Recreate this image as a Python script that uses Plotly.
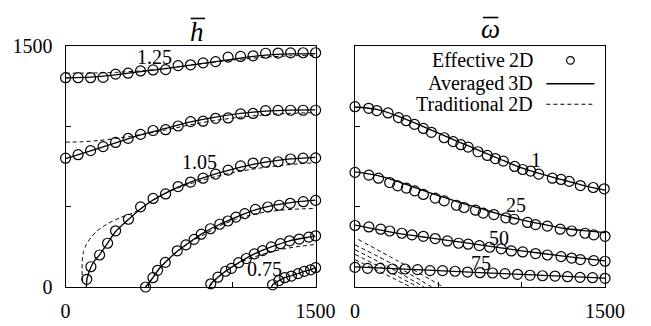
import plotly.graph_objects as go

# ---------------- data: left panel (h-bar contours) ----------------
GRID_X = [0, 75, 150, 225, 300, 375, 450, 525, 600, 675, 750, 825, 900, 975,
          1050, 1125, 1200, 1275, 1350, 1425, 1500]

h125_circ_y = [1300, 1300, 1300, 1302, 1322, 1328, 1342, 1348, 1350, 1375, 1380,
               1392, 1400, 1428, 1432, 1436, 1452, 1453, 1454, 1455, 1455]
h125_sol_x = [0, 150, 300, 450, 600, 750, 900, 1050, 1200, 1350, 1500]
h125_sol_y = [1298, 1303, 1318, 1338, 1356, 1378, 1400, 1422, 1440, 1448, 1450]
h125_dash_x = [0, 150, 300, 450, 600, 750, 900, 1050, 1200, 1350, 1500]
h125_dash_y = [1328, 1329, 1333, 1342, 1358, 1378, 1398, 1415, 1428, 1436, 1440]

h115_circ_y = [800, 822, 847, 872, 898, 923, 948, 972, 977, 1000, 1027, 1030,
               1048, 1050, 1075, 1078, 1095, 1097, 1098, 1098, 1098]
h115_sol_x = [0, 150, 300, 450, 600, 750, 900, 1050, 1200, 1350, 1500]
h115_sol_y = [798, 845, 895, 945, 985, 1025, 1055, 1078, 1093, 1099, 1100]
h115_dash_x = [0, 100, 200, 300, 400, 500, 600, 750, 900, 1050, 1200, 1350, 1500]
h115_dash_y = [900, 902, 910, 922, 938, 955, 975, 1008, 1035, 1055, 1070, 1079, 1083]

h105_circ_x = [127, 152, 204, 252, 300, 377, 450, 525, 600, 675, 750, 825, 900,
               975, 1050, 1125, 1200, 1275, 1350, 1425, 1500]
h105_circ_y = [48, 126, 199, 272, 349, 421, 498, 550, 578, 624, 652, 676, 701,
               726, 752, 770, 775, 778, 795, 800, 802]
h105_sol_x = [125, 128, 140, 153, 175, 204, 252, 300, 377, 450, 525, 600, 675,
              750, 825, 900, 975, 1050, 1125, 1200, 1275, 1350, 1425, 1500]
h105_sol_y = [0, 48, 90, 126, 165, 200, 272, 345, 420, 485, 540, 583, 620,
              652, 678, 702, 724, 745, 762, 776, 787, 796, 801, 805]
h105_dash_x = [102, 99, 100, 108, 125, 150, 185, 250, 330, 410, 460, 525, 600,
               675, 750, 825, 900, 1000, 1100, 1200, 1300, 1400, 1500]
h105_dash_y = [30, 100, 160, 220, 265, 305, 345, 392, 432, 462, 495, 540, 582,
               615, 642, 665, 686, 710, 728, 744, 756, 765, 772]

h095_circ_x = [480, 524, 552, 598, 670, 722, 771, 814, 869, 925, 974, 1022, 1075,
               1139, 1213, 1281, 1348, 1426, 1500]
h095_circ_y = [0, 58, 104, 153, 225, 262, 296, 328, 362, 390, 410, 434, 456,
               482, 497, 508, 520, 530, 538]
h095_sol_x = [480, 524, 560, 600, 670, 750, 830, 925, 1020, 1110, 1213, 1300, 1400, 1500]
h095_sol_y = [0, 58, 112, 155, 222, 283, 338, 390, 432, 470, 500, 517, 530, 540]
h095_dash_x = [480, 525, 555, 600, 675, 750, 830, 925, 1020, 1115, 1213, 1310, 1406, 1500]
h095_dash_y = [0, 58, 105, 155, 225, 280, 325, 380, 420, 448, 468, 479, 485, 488]

h085_circ_x = [871, 914, 960, 995, 1038, 1084, 1133, 1182, 1234, 1289, 1344, 1402, 1459, 1500]
h085_circ_y = [20, 61, 98, 116, 151, 177, 206, 226, 249, 269, 287, 298, 310, 318]
h085_sol_x = [862, 871, 914, 960, 1038, 1133, 1234, 1344, 1459, 1500]
h085_sol_y = [0, 20, 61, 98, 151, 206, 249, 287, 310, 318]
h085_dash_x = [862, 914, 960, 1038, 1100, 1160, 1213, 1310, 1406, 1500]
h085_dash_y = [0, 61, 98, 148, 175, 196, 212, 237, 253, 264]

h075_circ_x = [1242, 1280, 1315, 1355, 1395, 1432, 1470, 1500]
h075_circ_y = [14, 40, 58, 68, 83, 97, 107, 120]
h075_sol_x = [1236, 1242, 1280, 1315, 1355, 1395, 1432, 1470, 1500]
h075_sol_y = [0, 14, 40, 58, 70, 84, 97, 108, 120]

h_labels = ["1.25", "1.05", "0.75"]
h_label_x = [531, 805, 1194]
h_label_y = [1430, 776, 113]

# ---------------- data: right panel (omega-bar) ----------------
w1_circ_x = [0, 82, 131, 198, 261, 307, 357, 410, 458, 535, 589, 635, 679, 738,
             794, 842, 890, 958, 1006, 1054, 1102, 1184, 1236, 1285, 1352, 1429, 1495]
w1_circ_y = [1120, 1110, 1096, 1081, 1052, 1033, 1010, 985, 961, 927, 903, 884, 869, 840,
             817, 798, 782, 749, 730, 720, 701, 676, 668, 656, 630, 618, 610]
w1_sol_x = [0, 125, 250, 375, 500, 625, 750, 875, 1000, 1125, 1250, 1375, 1500]
w1_sol_y = [1118, 1105, 1065, 1012, 956, 900, 846, 792, 740, 700, 665, 630, 602]

w25_circ_x = [0, 83, 141, 208, 256, 308, 358, 410, 481, 535, 608, 654, 723, 769,
              833, 905, 954, 1035, 1083, 1154, 1231, 1300, 1380, 1432, 1500]
w25_circ_y = [712, 695, 676, 649, 628, 614, 597, 575, 552, 535, 508, 494, 477, 459,
              450, 430, 421, 401, 388, 378, 359, 348, 334, 324, 315]
w25_sol_x = [0, 125, 250, 375, 500, 625, 750, 875, 1000, 1125, 1250, 1375, 1500]
w25_sol_y = [715, 695, 658, 612, 568, 526, 488, 450, 417, 390, 365, 350, 338]

w50_circ_x = [0, 83, 154, 208, 281, 342, 410, 481, 554, 621, 679, 746, 808, 877,
              938, 1006, 1083, 1154, 1236, 1300, 1352, 1432, 1500]
w50_circ_y = [382, 373, 359, 348, 334, 324, 315, 301, 286, 272, 266, 257, 247, 237,
              224, 218, 208, 199, 189, 180, 170, 164, 160]
w50_sol_x = [0, 250, 500, 750, 1000, 1250, 1500]
w50_sol_y = [385, 335, 298, 262, 225, 192, 162]

w75_circ_y = [122, 116, 116, 112, 112, 108, 102, 102, 98, 93, 89, 87, 83, 79,
              73, 70, 68, 64, 60, 58, 54]
w75_sol_x = [0, 500, 1000, 1500]
w75_sol_y = [125, 102, 78, 55]

w_trad_x = [[20, 260, 530], [0, 230, 460], [0, 210, 415], [0, 190, 377], [0, 170, 335]]
w_trad_y = [[295, 160, 0], [262, 140, 0], [232, 120, 0], [203, 103, 0], [170, 85, 0]]

w_labels = ["1", "25", "50", "75"]
w_label_x = [1083, 967, 862, 756]
w_label_y = [788, 508, 305, 150]

legend_names = ["Effective\u20092D", "Averaged\u20093D", "Traditional\u20092D"]

# ---------------- figure ----------------
W, H = 651, 326
FONT = "Liberation Serif"
fig = go.Figure()
L = dict(xaxis="x", yaxis="y")
R = dict(xaxis="x2", yaxis="y2")


def add_line(xs, ys, axes, dashed):
    fig.add_trace(go.Scatter(
        x=xs, y=ys, mode="lines", showlegend=False, hoverinfo="skip", cliponaxis=True,
        line=dict(color="black", width=1.0 if dashed else 1.3,
                  dash="4px,3px" if dashed else "solid", shape="spline", smoothing=0.6),
        **axes))


def add_circ(xs, ys, axes):
    fig.add_trace(go.Scatter(
        x=xs, y=ys, mode="markers", showlegend=False, cliponaxis=False,
        marker=dict(symbol="circle-open", size=10, color="black", line=dict(width=1.2, color="black")),
        **axes))


# left panel
add_line(h125_dash_x, h125_dash_y, L, True)
add_line(h125_sol_x, h125_sol_y, L, False)
add_circ(GRID_X, h125_circ_y, L)
add_line(h115_dash_x, h115_dash_y, L, True)
add_line(h115_sol_x, h115_sol_y, L, False)
add_circ(GRID_X, h115_circ_y, L)
add_line(h105_dash_x, h105_dash_y, L, True)
add_line(h105_sol_x, h105_sol_y, L, False)
add_circ(h105_circ_x, h105_circ_y, L)
add_line(h095_dash_x, h095_dash_y, L, True)
add_line(h095_sol_x, h095_sol_y, L, False)
add_circ(h095_circ_x, h095_circ_y, L)
add_line(h085_dash_x, h085_dash_y, L, True)
add_line(h085_sol_x, h085_sol_y, L, False)
add_circ(h085_circ_x, h085_circ_y, L)
add_line(h075_sol_x, h075_sol_y, L, False)
add_circ(h075_circ_x, h075_circ_y, L)

# right panel
for tx, ty in zip(w_trad_x, w_trad_y):
    add_line(tx, ty, R, True)
add_line(w1_sol_x, w1_sol_y, R, False)
add_circ(w1_circ_x, w1_circ_y, R)
add_line(w25_sol_x, w25_sol_y, R, False)
add_circ(w25_circ_x, w25_circ_y, R)
add_line(w50_sol_x, w50_sol_y, R, False)
add_circ(w50_circ_x, w50_circ_y, R)
add_line(w75_sol_x, w75_sol_y, R, False)
add_circ(GRID_X, w75_circ_y, R)

tickfont = dict(family=FONT, size=20, color="black")
ydom = [1 - 296 / H, 1 - 37 / H]
common = dict(range=[0, 1500], tickvals=[0, 500, 1000, 1500], ticks="inside", ticklen=5,
              tickwidth=1, tickcolor="black", showline=True, mirror=True, linecolor="black",
              linewidth=1.3, showgrid=False, zeroline=False, tickfont=tickfont, fixedrange=True)

fig.update_layout(
    width=W, height=H, margin=dict(l=0, r=0, t=0, b=0),
    paper_bgcolor="white", plot_bgcolor="white", showlegend=False,
    font=dict(family=FONT, color="black"),
    xaxis=dict(domain=[63 / W, 323 / W], anchor="y", ticktext=["0", "", "", "1500"],
               ticklabelstandoff=6, **common),
    yaxis=dict(domain=ydom, anchor="x", ticktext=["0", "", "", "1500"],
               ticklabelstandoff=8, **common),
    xaxis2=dict(domain=[364 / W, 624 / W], anchor="y2", ticktext=["0", "", "", "1500"],
                ticklabelstandoff=6, **common),
    yaxis2=dict(domain=ydom, anchor="x2", ticktext=["", "", "", ""], **common),
)

ann = []
for t, x, y in zip(h_labels, h_label_x, h_label_y):
    ann.append(dict(text=t, x=x, y=y, xref="x", yref="y", showarrow=False,
                    font=dict(family=FONT, size=20, color="black")))
for t, x, y in zip(w_labels, w_label_x, w_label_y):
    ann.append(dict(text=t, x=x, y=y, xref="x2", yref="y2", showarrow=False,
                    font=dict(family=FONT, size=20, color="black")))

# panel titles
ann.append(dict(text="<i>h</i>", x=200 / W, y=1 - 22 / H, xref="paper", yref="paper",
                showarrow=False, xanchor="center", yanchor="middle",
                font=dict(family=FONT, size=27, color="black")))
ann.append(dict(text="<i>ω</i>", x=505 / W, y=1 - 19 / H, xref="paper", yref="paper",
                showarrow=False, xanchor="center", yanchor="middle",
                font=dict(family=FONT, size=27, color="black")))

# legend text
leg_py = [53, 78, 100]
for name, py in zip(legend_names, leg_py):
    ann.append(dict(text=name, x=551 / W, y=1 - py / H, xref="paper", yref="paper",
                    showarrow=False, xanchor="right", yanchor="middle",
                    font=dict(family=FONT, size=20, color="black")))
fig.update_layout(annotations=ann)

shapes = [
    dict(type="line", xref="paper", yref="paper", x0=193 / W, x1=208 / W,
         y0=1 - 8 / H, y1=1 - 8 / H, line=dict(color="black", width=1.6)),
    dict(type="line", xref="paper", yref="paper", x0=497 / W, x1=513 / W,
         y0=1 - 7 / H, y1=1 - 7 / H, line=dict(color="black", width=1.6)),
    dict(type="circle", xref="paper", yref="paper", x0=584 / W, x1=592 / W,
         y0=1 - 57 / H, y1=1 - 49 / H, line=dict(color="black", width=1.2)),
    dict(type="line", xref="paper", yref="paper", x0=563 / W, x1=613 / W,
         y0=1 - 78 / H, y1=1 - 78 / H, line=dict(color="black", width=1.3)),
    dict(type="line", xref="paper", yref="paper", x0=563 / W, x1=613 / W,
         y0=1 - 100 / H, y1=1 - 100 / H, line=dict(color="black", width=1.0, dash="4px,3px")),
]
fig.update_layout(shapes=shapes)

fig.write_html("out.html")
